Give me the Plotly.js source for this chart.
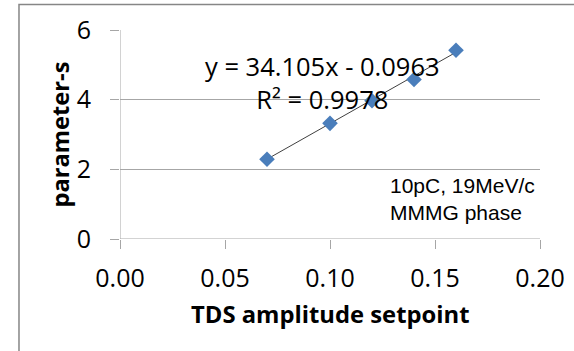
<!DOCTYPE html>
<html>
<head>
<meta charset="utf-8">
<script src="https://cdn.plot.ly/plotly-3.0.1.min.js"></script>
<style>html,body{margin:0;padding:0;background:#fff;}#chart{width:574px;height:351px;}</style>
</head>
<body>
<div id="chart"></div>
<script>
// Data
const amplitude = [0.07, 0.10, 0.12, 0.14, 0.16];
const paramS = [2.29, 3.32, 3.97, 4.58, 5.42];
// Excel linear trendline shown on the chart
const trendSlope = 34.105;
const trendIntercept = -0.0963;
const trendR2 = 0.9978;
const xTicks = [0, 0.05, 0.10, 0.15, 0.20];
const xTickLabels = ['0.00', '0.05', '0.10', '0.15', '0.20'];
const yTicks = [0, 2, 4, 6];
const xTitle = 'TDS amplitude setpoint';
const yTitle = 'parameter-s';
const noteLines = ['10pC, 19MeV/c', 'MMMG phase'];

const trendX = [Math.min(...amplitude), Math.max(...amplitude)];
const trendY = trendX.map(x => trendSlope * x + trendIntercept);

const fontMain = 'Open Sans, sans-serif';

const data = [
  {
    x: trendX, y: trendY, type: 'scatter', mode: 'lines',
    line: {color: '#404040', width: 1}, hoverinfo: 'skip', showlegend: false
  },
  {
    x: amplitude, y: paramS, type: 'scatter', mode: 'markers',
    marker: {symbol: 'diamond', size: 12, color: '#4a7ebb'}, showlegend: false
  }
];

const layout = {
  width: 574, height: 351,
  margin: {l: 120, r: 34, t: 30, b: 112},
  paper_bgcolor: '#ffffff', plot_bgcolor: '#ffffff',
  showlegend: false,
  xaxis: {
    range: [0, 0.20], tickvals: xTicks, ticktext: xTickLabels,
    showgrid: false, zeroline: false, showline: false,
    ticks: 'outside', ticklen: 9, tickcolor: '#a6a6a6', tickwidth: 1,
    tickfont: {family: fontMain, size: 25, color: '#000'},
    ticklabelstandoff: 8
  },
  yaxis: {
    range: [0, 6], tickvals: yTicks,
    showgrid: true, gridcolor: '#a6a6a6', gridwidth: 1,
    zeroline: false, showline: false,
    ticks: 'outside', ticklen: 9, tickcolor: '#a6a6a6', tickwidth: 1,
    tickfont: {family: fontMain, size: 25, color: '#000'},
    ticklabelstandoff: 14
  },
  shapes: [
    // y axis line and x axis line (gray, like Excel)
    {type: 'line', xref: 'x', yref: 'y', x0: 0, x1: 0, y0: 0, y1: 6, line: {color: '#a6a6a6', width: 1}},
    {type: 'line', xref: 'x', yref: 'y', x0: 0, x1: 0.20, y0: 0, y1: 0, line: {color: '#a6a6a6', width: 1}},
    // outer chart border (cropped on right and bottom)
    {type: 'rect', xref: 'paper', yref: 'paper', x0: -0.2405, x1: 1.2, y0: -0.7, y1: 1.122,
     line: {color: '#868686', width: 1.5}, fillcolor: 'rgba(0,0,0,0)', layer: 'above'}
  ],
  annotations: [
    {xref: 'paper', yref: 'paper', x: 0.5, y: -0.36, showarrow: false, xanchor: 'center', yanchor: 'middle',
     text: xTitle, font: {family: fontMain, size: 23.8, color: '#000', weight: 'bold'}},
    {xref: 'paper', yref: 'paper', x: -0.145, y: 0.5, showarrow: false, xanchor: 'center', yanchor: 'middle',
     textangle: -90,
     text: yTitle, font: {family: fontMain, size: 23.7, color: '#000', weight: 'bold'}},
    {xref: 'x', yref: 'y', x: 0.0962, y: 4.5, showarrow: false, xanchor: 'center', yanchor: 'middle',
     text: 'y = ' + trendSlope.toFixed(3) + 'x - ' + Math.abs(trendIntercept).toFixed(4) + '<br>R² = ' + trendR2.toFixed(4),
     font: {family: fontMain, size: 25.5, color: '#000'}, align: 'center'},
    {xref: 'x', yref: 'y', x: 0.1276, y: 1.14, xanchor: 'left', yanchor: 'middle', showarrow: false,
     text: noteLines.join('<br>'), font: {family: 'Liberation Sans, Arial, sans-serif', size: 21, color: '#000'}, align: 'left'}
  ]
};

Plotly.newPlot('chart', data, layout, {displayModeBar: false, staticPlot: true});
</script>
</body>
</html>
